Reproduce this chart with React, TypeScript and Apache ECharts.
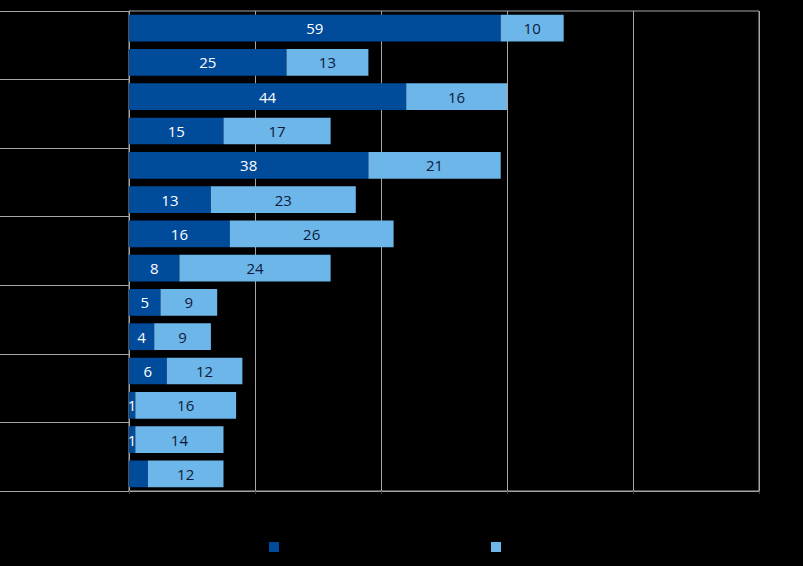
import React, { useEffect, useRef } from "react";
import * as echarts from "echarts";

const rows = ["R1", "R2", "R3", "R4", "R5", "R6", "R7", "R8", "R9", "R10", "R11", "R12", "R13", "R14"];
const groups = ["G1", "G2", "G3", "G4", "G5", "G6", "G7"];
const darkValues = [59, 25, 44, 15, 38, 13, 16, 8, 5, 4, 6, 1, 1, 3];
const lightValues = [10, 13, 16, 17, 21, 23, 26, 24, 9, 9, 12, 16, 14, 12];
const hiddenDarkLabels = [13];
const seriesNames = ["Series A", "Series B"];

const DARK = "#014B9B";
const LIGHT = "#6DB6EA";
const LINE = "#a6a6a6";
const FONT = "'Open Sans', 'Noto Sans', sans-serif";

export default function App() {
  const ref = useRef<HTMLDivElement>(null);
  useEffect(() => {
    if (!ref.current) return;
    const chart = echarts.init(ref.current, null, { renderer: "svg" });
    chart.setOption({
      animation: false,
      backgroundColor: "#000000",
      grid: {
        left: 129,
        right: 44,
        top: 11,
        bottom: 75,
        show: true,
        borderColor: LINE,
        borderWidth: 1,
        backgroundColor: "transparent",
      },
      legend: {
        left: 269,
        top: 542,
        padding: 0,
        itemWidth: 10,
        itemHeight: 10,
        itemGap: 212,
        icon: "rect",
        formatter: () => "",
        textStyle: { color: "#000000" },
        data: seriesNames,
      },
      xAxis: {
        type: "value",
        min: 0,
        max: 100,
        interval: 20,
        axisLine: { show: true, lineStyle: { color: LINE } },
        axisTick: { show: true, length: 3, lineStyle: { color: "#444" } },
        axisLabel: { show: false },
        splitLine: { show: true, lineStyle: { color: LINE, width: 1 } },
      },
      yAxis: [
        {
          type: "category",
          data: rows,
          inverse: true,
          axisLine: { show: true, lineStyle: { color: LINE } },
          axisTick: { show: false },
          axisLabel: { show: false },
        },
        {
          type: "category",
          data: groups,
          inverse: true,
          position: "left",
          axisLine: { show: false },
          axisTick: { show: true, length: 129, lineStyle: { color: LINE } },
          axisLabel: { show: false },
        },
      ],
      series: [
        {
          name: seriesNames[0],
          type: "bar",
          stack: "total",
          yAxisIndex: 0,
          barCategoryGap: "22%",
          itemStyle: { color: DARK },
          label: {
            show: true,
            position: "inside",
            color: "#ffffff",
            fontFamily: FONT,
            fontSize: 15,
          },
          data: darkValues.map((v, i) =>
            hiddenDarkLabels.includes(i) ? { value: v, label: { show: false } } : v
          ),
        },
        {
          name: seriesNames[1],
          type: "bar",
          stack: "total",
          yAxisIndex: 0,
          barCategoryGap: "22%",
          itemStyle: { color: LIGHT },
          label: {
            show: true,
            position: "inside",
            color: "#0c1a3a",
            fontFamily: FONT,
            fontSize: 15,
          },
          data: lightValues,
        },
      ],
    });
    return () => chart.dispose();
  }, []);
  return (
    <div
      ref={ref}
      style={{ position: "fixed", left: 0, top: 0, width: 803, height: 566, background: "#000" }}
    />
  );
}
